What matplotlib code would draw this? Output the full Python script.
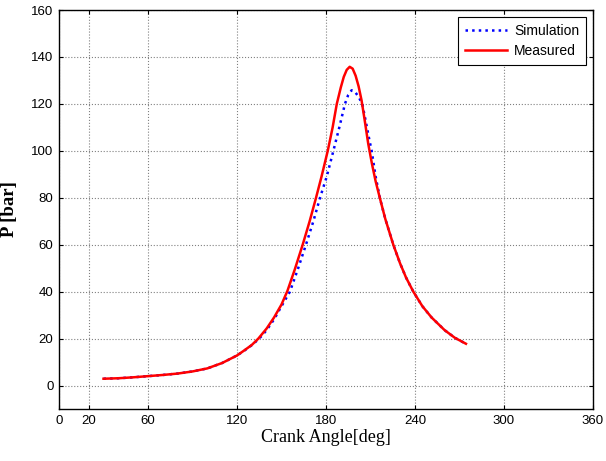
import matplotlib
matplotlib.use("Agg")
import matplotlib.pyplot as plt

# Measured pressure
meas_angle = [30, 40, 50, 60, 70, 80, 90, 100, 110, 120, 125, 130, 134.4, 140,
              145, 150, 154, 159, 164.3, 169, 173.3, 177, 181.2, 184.5, 187.3,
              190, 192, 194, 196, 198, 200, 202, 204, 206, 208.5, 211, 213.5,
              216.5, 220, 225.4, 230, 234, 238.9, 245, 251.2, 260, 267, 274.4]
meas_p = [2.9, 3.1, 3.5, 4.0, 4.5, 5.1, 6.0, 7.3, 9.6, 12.8, 15.0, 17.3, 20.0,
          24.3, 29.0, 34.5, 40.3, 49.5, 60.0, 70.0, 80.0, 89.0, 100.0, 110.0,
          120.0, 127.0, 131.5, 134.5, 135.8, 135.0, 132.0, 127.5, 121.5, 113.5,
          103.0, 94.5, 87.0, 79.5, 71.0, 60.0, 52.0, 46.0, 40.0, 33.8, 29.0,
          23.6, 20.3, 17.8]

# Simulated pressure
sim_angle = [30, 40, 50, 60, 70, 80, 90, 100, 110, 120, 125, 130, 135, 140, 145,
             150, 155.7, 161, 166.5, 171.5, 176, 180.5, 185, 189, 192.8, 195,
             197.3, 199.5, 202, 204.5, 207, 209, 210.8, 213.5, 216.5, 220, 225.4,
             230, 234, 238.9, 245, 251.2, 260, 267, 274.4]
sim_p = [2.9, 3.1, 3.5, 4.0, 4.5, 5.1, 6.0, 7.3, 9.6, 12.8, 14.9, 17.2, 20.0,
         23.6, 28.2, 33.8, 40.0, 49.5, 60.0, 70.0, 80.0, 89.0, 100.0, 110.0,
         120.0, 123.8, 125.8, 125.2, 123.0, 120.0, 112.0, 105.5, 100.0, 89.0,
         79.5, 71.0, 60.0, 52.0, 46.0, 40.0, 33.8, 29.0, 23.6, 20.3, 17.8]

x_ticks = [0, 20, 60, 120, 180, 240, 300, 360]
y_ticks = [0, 20, 40, 60, 80, 100, 120, 140, 160]

fig = plt.figure(figsize=(6.06, 4.61), dpi=100)
ax = fig.add_axes([0.0974, 0.1128, 0.881, 0.8655])

ax.plot(sim_angle, sim_p, color='blue', linestyle=':', linewidth=1.8, label='Simulation')
ax.plot(meas_angle, meas_p, color='red', linestyle='-', linewidth=1.8, label='Measured')

ax.set_xlim(0, 360)
ax.set_ylim(-10, 160)
ax.set_xticks(x_ticks)
ax.set_yticks(y_ticks)
ax.grid(True, color='#808080', linestyle=':', linewidth=0.8)
ax.tick_params(direction='in', length=3, top=True, right=True, labelsize=9.5,
               width=0.8, pad=4)
for lab in ax.get_xticklabels() + ax.get_yticklabels():
    lab.set_fontfamily('Liberation Sans')
for s in ax.spines.values():
    s.set_linewidth(1.0)

ax.set_xlabel('Crank Angle[deg]', fontfamily='Liberation Serif', fontsize=13, labelpad=2)
ax.set_ylabel('P [bar]', fontfamily='Liberation Serif', fontsize=13.5, fontweight='bold')
ax.yaxis.set_label_coords(-0.077, 0.5)

leg = ax.legend(loc='upper right', prop={'family': 'Liberation Sans', 'size': 10},
                fancybox=False, framealpha=1, edgecolor='black', handlelength=3.0,
                handletextpad=0.5, labelspacing=0.45, borderpad=0.5,
                borderaxespad=0.5)
leg.get_frame().set_linewidth(0.8)

fig.savefig('out.png', dpi=100)
